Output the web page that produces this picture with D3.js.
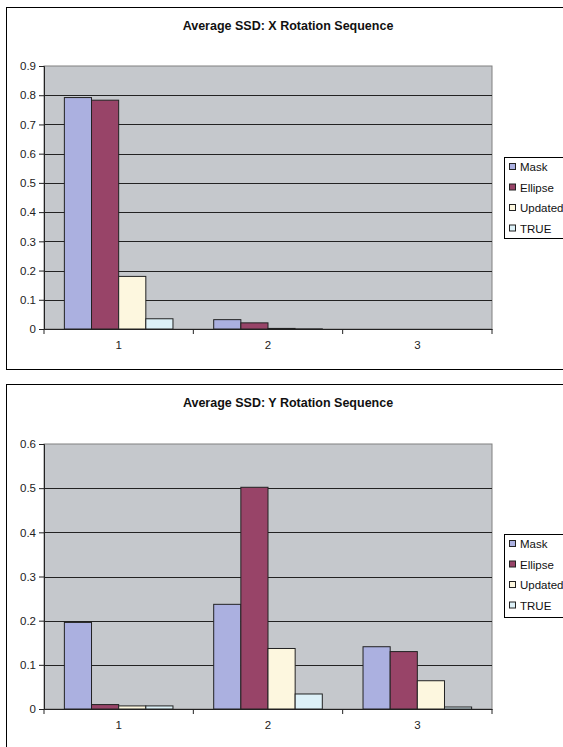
<!DOCTYPE html>
<html><head><meta charset="utf-8">
<script src="https://cdn.jsdelivr.net/npm/d3@7"></script>
<style>
html,body{margin:0;padding:0;background:#fff;}
svg{display:block;font-family:"Liberation Sans",Arial,sans-serif;}
</style></head>
<body><svg id="c" width="563" height="747"></svg>
<script>
const categories = ["1","2","3"];
const seriesNames = ["Mask","Ellipse","Updated","TRUE"];
const seriesColors = ["#abb0e0","#984468","#fdf7df","#ddf1f8"];

const xTitle = "Average SSD: X Rotation Sequence";
const xMask    = [0.792, 0.032, 0.0];
const xEllipse = [0.783, 0.021, 0.0];
const xUpdated = [0.180, 0.002, 0.0];
const xTrue    = [0.035, 0.0005, 0.0];
const xTicks = [0,0.1,0.2,0.3,0.4,0.5,0.6,0.7,0.8,0.9];

const yTitle = "Average SSD: Y Rotation Sequence";
const yMask    = [0.196, 0.237, 0.141];
const yEllipse = [0.010, 0.502, 0.130];
const yUpdated = [0.007, 0.137, 0.064];
const yTrue    = [0.007, 0.034, 0.0045];
const yTicks = [0,0.1,0.2,0.3,0.4,0.5,0.6];

const svg = d3.select("#c");

function drawChart(cfg){
  const g = svg.append("g");
  g.append("rect").attr("x",cfg.frame[0]+0.5).attr("y",cfg.frame[1]+0.5)
    .attr("width",cfg.frame[2]).attr("height",cfg.frame[3])
    .attr("fill","#fff").attr("stroke","#000").attr("stroke-width",1);
  g.append("text").attr("x",288).attr("y",cfg.titleY)
    .attr("text-anchor","middle").attr("font-weight","bold").attr("font-size","12.5px")
    .attr("fill","#111").text(cfg.title);

  const x0 = d3.scaleBand().domain(categories).range([cfg.left,cfg.right]).padding(0);
  const x1 = d3.scaleBand().domain(seriesNames).range([0,x0.bandwidth()]).paddingInner(0).paddingOuter(0.75);
  const y = d3.scaleLinear().domain([0,cfg.max]).range([cfg.bottom,cfg.top]);

  g.append("rect").attr("x",cfg.left).attr("y",cfg.top)
    .attr("width",cfg.right-cfg.left).attr("height",cfg.bottom-cfg.top)
    .attr("fill","#c5c8cc").attr("stroke","#808080").attr("stroke-width",1);

  g.append("g").selectAll("line").data(cfg.ticks.filter(d=>d>0 && d<cfg.max)).join("line")
    .attr("x1",cfg.left).attr("x2",cfg.right)
    .attr("y1",d=>Math.round(y(d))+0.5).attr("y2",d=>Math.round(y(d))+0.5)
    .attr("stroke","#222").attr("stroke-width",1);

  const rows = categories.map((c,i)=>({cat:c, vals:seriesNames.map((s,j)=>({s, j, v:cfg.data[j][i]}))}));
  g.append("g").selectAll("g").data(rows).join("g")
    .attr("transform",d=>`translate(${x0(d.cat)},0)`)
    .selectAll("rect").data(d=>d.vals.filter(v=>v.v>0)).join("rect")
    .attr("x",d=>x1(d.s)).attr("width",x1.bandwidth())
    .attr("y",d=>y(d.v)).attr("height",d=>Math.max(0,cfg.bottom-y(d.v)))
    .attr("fill",d=>seriesColors[d.j]).attr("stroke","#222").attr("stroke-width",1);

  const ya = d3.axisLeft(y).tickValues(cfg.ticks).tickSize(5).tickPadding(3)
    .tickFormat(d=>d===0?"0":d3.format(".1f")(d));
  const yg = g.append("g").attr("transform",`translate(${cfg.left},0)`).call(ya);
  yg.select(".domain").attr("stroke","#222");
  yg.selectAll(".tick line").attr("stroke","#222");
  yg.selectAll("text").attr("font-size","11.5px").attr("fill","#222")
    .attr("font-family","Liberation Sans, Arial, sans-serif");

  const xa = d3.axisBottom(x0).tickSize(0).tickPadding(12);
  const xg = g.append("g").attr("transform",`translate(0,${cfg.bottom})`).call(xa);
  xg.select(".domain").attr("stroke","#222");
  xg.selectAll("text").attr("font-size","11.5px").attr("fill","#222")
    .attr("font-family","Liberation Sans, Arial, sans-serif");
  const bounds = categories.map(c=>x0(c)).concat([x0(categories[categories.length-1])+x0.bandwidth()]);
  xg.selectAll(".btick").data(bounds).join("line").attr("class","btick")
    .attr("x1",d=>d).attr("x2",d=>d).attr("y1",0).attr("y2",5)
    .attr("stroke","#222").attr("stroke-width",1);

  const lg = g.append("g");
  lg.append("rect").attr("x",cfg.legend[0]+0.5).attr("y",cfg.legend[1]+0.5)
    .attr("width",80).attr("height",cfg.legend[2])
    .attr("fill","#fff").attr("stroke","#000").attr("stroke-width",1);
  const items = lg.selectAll("g.li").data(seriesNames).join("g").attr("class","li")
    .attr("transform",(d,i)=>`translate(${cfg.legend[0]+5},${cfg.legend[1]+10+i*20.5})`);
  items.append("rect").attr("x",0.5).attr("y",-3.5).attr("width",6).attr("height",6)
    .attr("fill",(d,i)=>seriesColors[i]).attr("stroke","#222").attr("stroke-width",1);
  items.append("text").attr("x",11).attr("y",4).attr("font-size","11.5px").attr("fill","#111").text(d=>d);
}

drawChart({
  frame:[6,7,570,362], title:xTitle, titleY:30,
  left:44, right:492, top:66, bottom:329, max:0.9, ticks:xTicks,
  data:[xMask,xEllipse,xUpdated,xTrue], legend:[504,157,81]
});
drawChart({
  frame:[6,384,570,380], title:yTitle, titleY:407,
  left:44, right:492, top:444, bottom:709, max:0.6, ticks:yTicks,
  data:[yMask,yEllipse,yUpdated,yTrue], legend:[504,534,83]
});
</script></body></html>
